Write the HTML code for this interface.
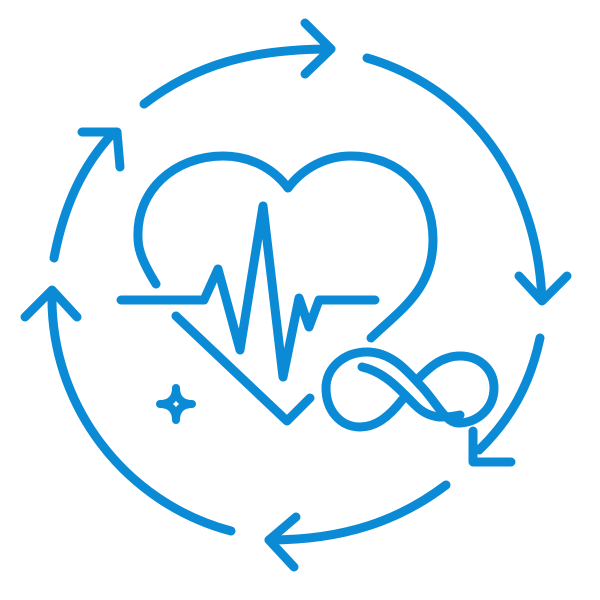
<!DOCTYPE html>
<html><head><style>html,body{margin:0;padding:0;background:#fff}svg{display:block}</style></head>
<body>
<svg width="600" height="600" viewBox="0 0 600 600" xmlns="http://www.w3.org/2000/svg">
<g fill="none" stroke="#0b8bd6" stroke-width="9" stroke-linecap="round" stroke-linejoin="round">
<path d="M144,104 C195,65 250,49 331,49"/>
<path d="M305,23 L331,49 L305,74"/>
<path d="M367,58 C470,88 537,180 542,300"/>
<path d="M519,276 L542,301 L567,276"/>
<path d="M540,338 C530,385 510,420 479,450"/>
<path d="M473,431 L473,462 L511,462"/>
<path d="M446,485 C400,520 345,540 269,540"/>
<path d="M296,517 L269,540 L294,567"/>
<path d="M231,531 C125,503 50,405 52,294"/>
<path d="M25,317 L52,290 L77,317"/>
<path d="M54,258 C64,205 83,165 113,133"/>
<path d="M82,132 L117,132 L120,167"/>
<path d="M156,284 C143,263 138,250 138,238 C136,190 175,156 223,156 C250,156 273,168 288,188 C303,168 326,156 351,156 C400,156 433,190 433,240 C433,290 400,310 371,338"/>
<path d="M121,300 L204,300 L218,269 L240,350 L263,206 L283,377 L299,298 L309,327 L319,300 L375,300"/>
<path d="M176,316 L287,421 L310,398"/>
<path d="M176,388 C176,398 170,404 160,404 C170,404 176,410 176,420 C176,410 182,404 192,404 C182,404 176,398 176,388 Z" stroke-width="8"/>
<path d="M362,367 C385,372 400,390 415,405 C430,420 445,418 460,415"/>
<path d="M402,400 C388,418 375,427 360,427 C340,427 326,410 326,388 C326,367 345,352 367,352 C392,352 408,372 420,385 C435,400 445,423 458,423 C478,423 494,408 494,388 C494,370 480,356 460,356 C440,356 427,370 417,380"/>
</g>
</svg>
</body></html>
